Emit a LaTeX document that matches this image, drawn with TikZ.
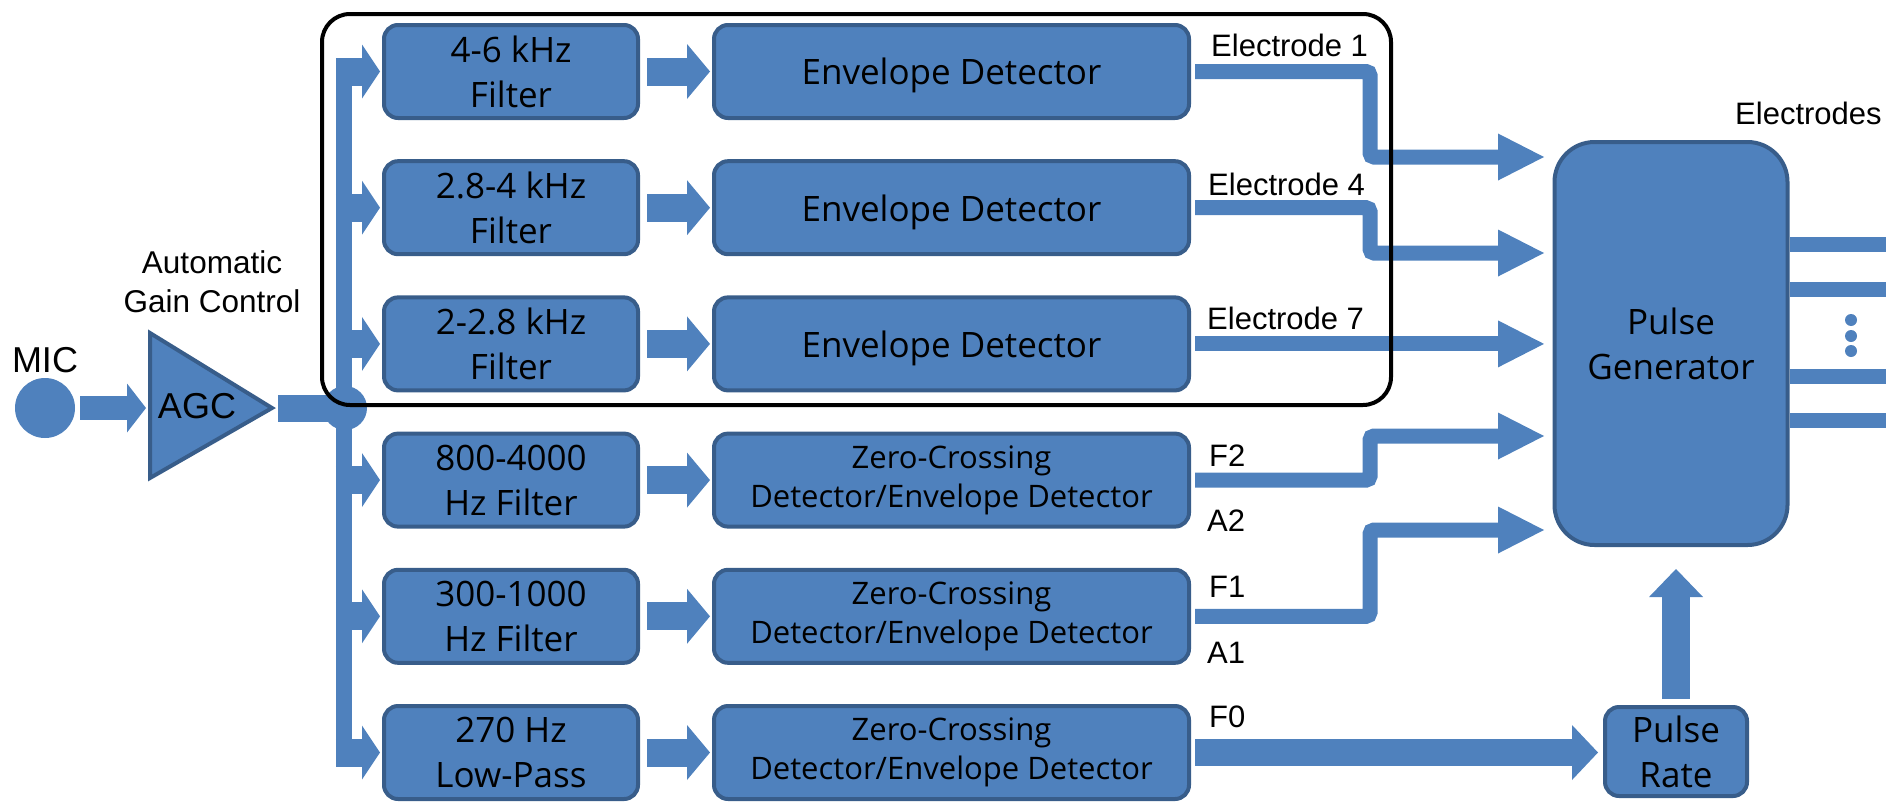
\documentclass[tikz,border=0pt]{standalone}
\usepackage{fontspec}
\setmainfont{Liberation Sans}
\newfontfamily\boxfont{Open Sans}
\usetikzlibrary{arrows.meta,calc}
\definecolor{fillc}{HTML}{4F81BD}
\definecolor{edgec}{HTML}{385D8A}
\begin{document}
\begin{tikzpicture}[x=1pt,y=-1pt,
  box/.style={draw=edgec, fill=fillc, line width=4pt, rounded corners=14pt,
    inner sep=0pt, align=center, text=black,
    font=\boxfont\fontsize{35}{45}\selectfont},
  filt/.style={box, minimum width=254pt, minimum height=93pt},
  det/.style={box, minimum width=475pt, minimum height=93pt},
  oneline/.style={text depth=0pt},
  zc/.style={font=\boxfont\fontsize{31}{39}\selectfont},
  lbl/.style={font=\fontsize{31}{38}\selectfont, inner sep=0pt, anchor=base west},
  busarrow/.style={draw=fillc, line width=28pt, shorten >=2pt,
    -{Triangle[length=18pt,width=54pt,line width=0pt]}},
  fatarrow/.style={draw=fillc, line width=28pt, shorten <=7pt, shorten >=2pt,
    -{Triangle[length=23pt,width=55pt,line width=0pt]}},
  wire/.style={draw=fillc, line width=15pt, rounded corners=4pt,
    shorten <=4pt, shorten >=8pt,
    -{Triangle[length=46pt,width=47pt,line width=0pt]}},
  dot/.style={circle, fill=fillc, inner sep=0pt, minimum size=12pt}
]
\useasboundingbox (0,0) rectangle (1889,801);

% microphone and gain stage
\node[circle, fill=fillc, minimum size=60pt, inner sep=0pt] (mic) at (45,408) {};
\node[font=\fontsize{36}{43}\selectfont, anchor=base, inner sep=0pt] (miclbl) at (45,372) {MIC};
\draw[draw=edgec, fill=fillc, line width=4pt, line join=miter]
  (150,333) -- (272,408) -- (150,478) -- cycle;
\coordinate (agcin) at (148,408);
\coordinate (agcout) at (276,408);
\node[font=\fontsize{36}{43}\selectfont, anchor=base, inner sep=0pt] (agc) at (197,418) {AGC};
\node[font=\fontsize{31.5}{39}\selectfont, align=center, anchor=north, inner sep=0pt]
  (agclbl) at (212,250) {Automatic\\Gain Control};

% distribution bus
\node[fill=fillc, inner sep=0pt, minimum width=16pt, minimum height=709pt] (bus) at (344,412.5) {};
\node[circle, fill=fillc, minimum size=44pt, inner sep=0pt] (jn) at (345,408) {};

% filter bank
\node[filt] (f1) at (511,71.5)  {4-6 kHz\\Filter};
\node[filt] (f2) at (511,207.7) {2.8-4 kHz\\Filter};
\node[filt] (f3) at (511,343.9) {2-2.8 kHz\\Filter};
\node[filt] (f4) at (511,480.1) {800-4000\\Hz Filter};
\node[filt] (f5) at (511,616.3) {300-1000\\Hz Filter};
\node[filt] (f6) at (511,752.5) {270 Hz\\Low-Pass};

% detectors
\node[det, oneline] (d1) at (951.5,71.5)  {Envelope Detector};
\node[det, oneline] (d2) at (951.5,207.7) {Envelope Detector};
\node[det, oneline] (d3) at (951.5,343.9) {Envelope Detector};
\node[det, zc] (d4) at (951.5,480.1) {Zero-Crossing\\Detector/Envelope Detector};
\node[det, zc] (d5) at (951.5,616.3) {Zero-Crossing\\Detector/Envelope Detector};
\node[det, zc] (d6) at (951.5,752.5) {Zero-Crossing\\Detector/Envelope Detector};

% pulse generation
\node[box, rounded corners=40pt, minimum width=233pt, minimum height=403pt] (pg) at (1671,343.5) {Pulse\\Generator};
\node[box, minimum width=142pt, minimum height=89pt] (pr) at (1676,751.5) {Pulse\\Rate};

% connectors into the filter bank
\draw[draw=fillc, line width=24pt, shorten <=5pt, shorten >=2pt,
  -{Triangle[length=19pt,width=49pt,line width=0pt]}] (mic.east) -- (agcin);
\draw[draw=fillc, line width=27pt, shorten <=2pt] (agcout) -- (jn.center);
\foreach \i in {1,...,6} {
  \draw[busarrow] (bus.west |- f\i.west) -- (f\i.west);
  \draw[fatarrow] (f\i.east) -- (d\i.west);
}

% channel outputs to the pulse generator
\coordinate (bend) at (1370,0);
\coordinate (in1) at (1552,157);
\coordinate (in2) at (1552,253);
\coordinate (in3) at (1552,343.9);
\coordinate (in4) at (1552,436);
\coordinate (in5) at (1552,530);
\draw[wire] (d1.east) -| (bend |- in1) -- (in1);
\draw[wire] (d2.east) -| (bend |- in2) -- (in2);
\draw[wire] (d3.east) -- (in3);
\draw[wire] (d4.east) -| (bend |- in4) -- (in4);
\draw[wire] (d5.east) -| (bend |- in5) -- (in5);
\draw[draw=fillc, line width=27pt, shorten <=4pt, shorten >=5pt,
  -{Triangle[length=26pt,width=55pt,line width=0pt]}] (d6.east) -- (d6.east -| pr.west);
\draw[draw=fillc, line width=28pt, shorten <=6pt, shorten >=22pt,
  -{Triangle[length=28pt,width=54pt,line width=0pt]}] (pr.north) -- (pr.north |- pg.south);

% electrode outputs
\foreach \y [count=\k] in {244,289,376,420} {
  \coordinate (out\k) at (1886,\y);
  \draw[draw=fillc, line width=15pt] (pg.east |- out\k) -- (out\k);
}
\node[dot] (dot1) at (1851,320) {};
\node[dot] (dot2) at (1851,336) {};
\node[dot] (dot3) at (1851,351) {};

% labels
\node[lbl] (le1) at (1211,56)  {Electrode 1};
\node[lbl] (le4) at (1208,195) {Electrode 4};
\node[lbl] (le7) at (1207,329) {Electrode 7};
\node[lbl] (lf2) at (1209,466) {F2};
\node[lbl] (la2) at (1207,531) {A2};
\node[lbl] (lf1) at (1209,597) {F1};
\node[lbl] (la1) at (1207,663) {A1};
\node[lbl] (lf0) at (1209,727) {F0};
\node[lbl] (lel) at (1735,124) {Electrodes};

% grouping frame around the high-frequency channels
\node[draw=black, line width=4pt, rounded corners=28pt, inner sep=0pt,
  minimum width=1069pt, minimum height=391pt] (grp) at (856.5,209.5) {};
\end{tikzpicture}
\end{document}
